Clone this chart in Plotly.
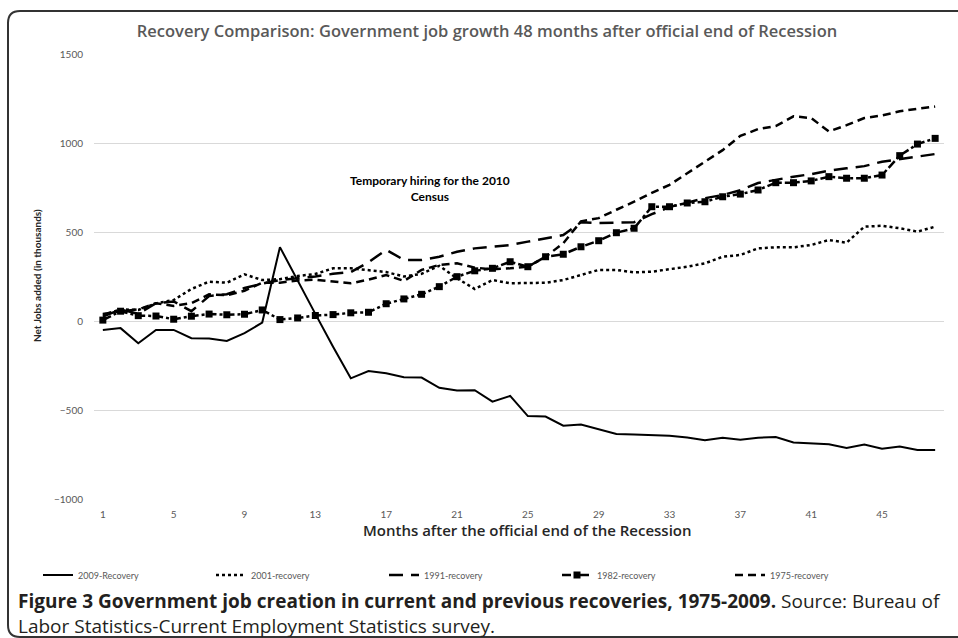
import plotly.graph_objects as go

# Meses después del fin oficial de la recesión
months = list(range(1, 49))
tick_months = [1, 5, 9, 13, 17, 21, 25, 29, 33, 37, 41, 45]
y_ticks = [-1000, -500, 0, 500, 1000, 1500]

# Empleo público neto añadido (miles)
rec_2009 = [-50, -40, -125, -50, -50, -97, -99, -112, -68, -9,
            415, 225, 40, -145, -322, -281, -294, -316, -318, -375,
            -391, -389, -453, -421, -534, -537, -588, -582, -608, -635,
            -638, -640, -645, -655, -670, -656, -667, -656, -652, -682,
            -688, -692, -713, -694, -718, -705, -725, -725]
rec_2001 = [34, 65, 62, 99, 118, 180, 221, 215, 262, 230,
            235, 253, 264, 296, 296, 285, 275, 250, 265, 310,
            240, 180, 230, 212, 215, 215, 230, 258, 287, 287,
            273, 277, 290, 305, 324, 361, 371, 408, 414, 414,
            427, 455, 440, 530, 535, 521, 502, 530]
rec_1991 = [25, 65, 40, 100, 110, 55, 140, 150, 185, 210,
            230, 240, 250, 265, 275, 330, 400, 343, 343, 361,
            389, 408, 418, 427, 446, 464, 483, 555, 550, 552,
            555, 600, 640, 665, 690, 708, 735, 775, 795, 811,
            825, 845, 858, 870, 895, 910, 922, 938]
rec_1982 = [5, 55, 30, 28, 10, 27, 39, 35, 38, 62,
            8, 17, 31, 36, 46, 49, 97, 124, 150, 193,
            249, 282, 296, 333, 305, 361, 375, 417, 451, 496,
            521, 642, 642, 663, 670, 698, 713, 736, 777, 777,
            787, 811, 802, 802, 820, 929, 994, 1026]
rec_1975 = [40, 55, 65, 100, 85, 100, 150, 145, 170, 215,
            215, 228, 232, 220, 212, 232, 258, 225, 287, 315,
            324, 300, 290, 296, 305, 361, 437, 560, 578, 625,
            670, 720, 765, 830, 895, 960, 1040, 1078, 1095, 1150,
            1140, 1065, 1100, 1140, 1155, 1178, 1192, 1205]

fig = go.Figure()

fig.add_trace(go.Scatter(x=months, y=rec_2009, mode="lines", name="2009-Recovery",
                         line=dict(color="black", width=2)))
fig.add_trace(go.Scatter(x=months, y=rec_2001, mode="lines", name="2001-recovery",
                         line=dict(color="black", width=2.5, dash="dot")))
fig.add_trace(go.Scatter(x=months, y=rec_1991, mode="lines", name="1991-recovery",
                         line=dict(color="black", width=2.5, dash="14px,8px")))
fig.add_trace(go.Scatter(x=months, y=rec_1982, mode="lines+markers", name="1982-recovery",
                         line=dict(color="black", width=2.5, dash="dashdot"),
                         marker=dict(symbol="square", size=7, color="black")))
fig.add_trace(go.Scatter(x=months, y=rec_1975, mode="lines", name="1975-recovery",
                         line=dict(color="black", width=2.5, dash="8px,5px")))

# Área del gráfico en píxeles de pantalla (se quita el margen del <body> abajo)
W, H = 958, 638
L, R, T, B = 94, 944, 54, 499

def px(x):
    return (x - L) / (R - L)

def py(y):
    return (B - y) / (B - T)

# Marco redondeado (lado izquierdo, arriba y abajo; el derecho queda fuera de la imagen)
left, top, bottom, right = px(8), py(11), py(637), px(958)
dx, dy = 12 / (R - L), 12 / (B - T)
frame = (f"M {right},{top} L {left + dx},{top} Q {left},{top} {left},{top - dy} "
         f"L {left},{bottom + dy} Q {left},{bottom} {left + dx},{bottom} L {right},{bottom}")

fig.update_layout(
    width=W, height=H,
    margin=dict(l=L, r=W - R, t=T, b=H - B),
    paper_bgcolor="white", plot_bgcolor="white",
    font=dict(family="Lato, sans-serif", color="#595959"),
    title=dict(text="Recovery Comparison: Government job growth 48 months after official end of Recession",
               x=487 / W, xanchor="center", xref="container",
               y=1 - 31 / H, yanchor="middle", yref="container",
               font=dict(size=16.5, color="#595959", family="Open Sans, sans-serif", weight=600)),
    xaxis=dict(range=[0.5, 48.5], tickvals=tick_months, showgrid=False, zeroline=False,
               showline=False, ticks="outside", ticklen=6, tickcolor="rgba(0,0,0,0)",
               tickfont=dict(size=10, color="#595959")),
    yaxis=dict(range=[-1000, 1500], tickvals=y_ticks, showgrid=True, gridcolor="#d9d9d9",
               gridwidth=1, zeroline=False, showline=False,
               ticks="outside", ticklen=8, tickcolor="rgba(0,0,0,0)",
               tickfont=dict(size=10, color="#595959")),
    legend=dict(orientation="h", x=px(38), xanchor="left", y=py(575), yanchor="middle",
                font=dict(size=9, color="#595959"), entrywidth=128, entrywidthmode="pixels",
                bgcolor="rgba(0,0,0,0)"),
    shapes=[dict(type="path", xref="paper", yref="paper", path=frame,
                 line=dict(color="#333333", width=2))],
    annotations=[
        dict(text="<b>Temporary hiring for the 2010<br>Census</b>", x=19.5, y=745,
             xref="x", yref="y", showarrow=False, font=dict(size=12, color="black")),
        dict(text="Months after the official end of the Recession", x=px(527), y=py(530),
             xref="paper", yref="paper", xanchor="center", yanchor="middle", showarrow=False,
             font=dict(size=15, color="#262626", family="Open Sans, sans-serif", weight=600)),
        dict(text="<b>Net Jobs added (in thousands)</b>", x=px(37), y=py(276), textangle=-90,
             xref="paper", yref="paper", xanchor="center", yanchor="middle", showarrow=False,
             font=dict(size=10, color="#262626")),
        dict(text="<b>Figure 3 Government job creation in current and previous recoveries, 1975-2009.</b>"
                  " Source: Bureau of<br>Labor Statistics-Current Employment Statistics survey.",
             x=px(16), y=py(613.5), xref="paper", yref="paper", xanchor="left", yanchor="middle",
             align="left", showarrow=False,
             font=dict(size=19, color="#231f20", family="Open Sans, sans-serif")),
    ],
)

# Sin margen ni barras de desplazamiento en la página, sin barra de herramientas
fig.write_html("out.html", config={"displayModeBar": False},
               post_script="document.body.style.margin='0';document.body.style.overflow='hidden';")
